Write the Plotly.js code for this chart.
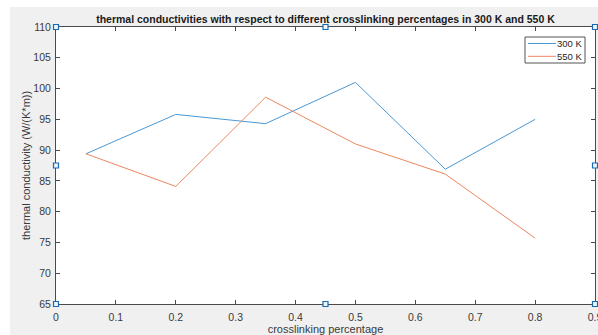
<!DOCTYPE html>
<html>
<head>
<meta charset="utf-8">
<script src="https://cdn.plot.ly/plotly-3.0.1.min.js"></script>
<style>html,body{margin:0;padding:0;background:#fff;}#chart{width:598px;height:335px;}</style>
</head>
<body>
<div id="chart"></div>
<script>
// Data
const crosslinking = [0.05, 0.2, 0.35, 0.5, 0.65, 0.8];
const k300 = [89.4, 95.8, 94.3, 101.0, 86.9, 95.0];
const k550 = [89.4, 84.1, 98.6, 91.0, 86.1, 75.7];
const seriesNames = ['300 K', '550 K'];
const seriesColors = ['#4a98d4', '#ec8660'];
const xTicks = [0, 0.1, 0.2, 0.3, 0.4, 0.5, 0.6, 0.7, 0.8, 0.9];
const yTicks = [65, 70, 75, 80, 85, 90, 95, 100, 105, 110];
const xTitle = 'crosslinking percentage';
const yTitle = 'thermal conductivity (W/(K*m))';

const W = 598, H = 335;
const L = 56, R = 3, T = 27, B = 31;
const pw = W - L - R, ph = H - T - B;
function px2x(p) { return (p - L) / pw; }
function py2y(p) { return (H - B - p) / ph; }

const traces = [
  {x: crosslinking, y: k300, name: seriesNames[0], type: 'scatter', mode: 'lines',
   line: {color: seriesColors[0], width: 1}, showlegend: false},
  {x: crosslinking, y: k550, name: seriesNames[1], type: 'scatter', mode: 'lines',
   line: {color: seriesColors[1], width: 1}, showlegend: false}
];

const handles = [];
[[0,0],[0.5,0],[1,0],[0,0.5],[1,0.5],[0,1],[0.5,1],[1,1]].forEach(function(p){
  handles.push({type: 'rect', xref: 'paper', yref: 'paper', xsizemode: 'pixel', ysizemode: 'pixel',
    xanchor: p[0], yanchor: p[1], x0: -2.5, x1: 2.5, y0: -2.5, y1: 2.5,
    line: {color: '#1a6ab3', width: 1.2}, fillcolor: '#eef4fa', layer: 'above'});
});

// custom compact legend (MATLAB style)
const legBox = {type: 'rect', xref: 'paper', yref: 'paper', x0: px2x(525), x1: px2x(585), y0: py2y(63), y1: py2y(37),
  line: {color: '#555555', width: 1}, fillcolor: '#ffffff', layer: 'above'};
const legLines = [];
const annotations = [];
seriesNames.forEach(function(n, i){
  const yy = 43.5 + i * 12.8;
  legLines.push({type: 'line', xref: 'paper', yref: 'paper', x0: px2x(528), x1: px2x(556), y0: py2y(yy), y1: py2y(yy),
    line: {color: seriesColors[i], width: 1}, layer: 'above'});
  annotations.push({xref: 'paper', yref: 'paper', x: px2x(583), y: py2y(yy), xanchor: 'right', yanchor: 'middle',
    text: n, showarrow: false, font: {size: 9.5, color: '#262626'}, borderpad: 0});
});
// y axis title (placed like MATLAB's)
annotations.push({xref: 'paper', yref: 'paper', x: px2x(25.5), y: 0.5, xanchor: 'center', yanchor: 'middle',
  textangle: -90, text: yTitle, showarrow: false, borderpad: 0, font: {size: 11, color: '#3a3a3a'}});

const shapes = [
  {type: 'rect', xref: 'paper', yref: 'paper', x0: px2x(0), x1: px2x(W), y0: py2y(7), y1: py2y(0),
   line: {width: 0}, fillcolor: '#ffffff', layer: 'below'},
  {type: 'rect', xref: 'paper', yref: 'paper', x0: px2x(0), x1: px2x(10), y0: py2y(H), y1: py2y(0),
   line: {width: 0}, fillcolor: '#ffffff', layer: 'below'},
  legBox
].concat(legLines).concat(handles);

const axisCommon = {
  showline: true, linecolor: '#4a4a4a', linewidth: 1, mirror: 'ticks',
  ticks: 'inside', ticklen: 4, tickcolor: '#4a4a4a', tickwidth: 1,
  showgrid: false, zeroline: false, ticklabeloverflow: 'allow',
  tickfont: {family: 'Liberation Sans, Arial, sans-serif', size: 10.5, color: '#3a3a3a'}
};

const layout = {
  width: W, height: H,
  margin: {l: L, r: R, t: T, b: B, pad: 0},
  paper_bgcolor: '#f0f0f0', plot_bgcolor: '#ffffff',
  font: {family: 'Liberation Sans, Arial, sans-serif', color: '#262626'},
  title: {text: '<b>thermal conductivities with respect to different crosslinking percentages in 300 K and 550 K</b>',
    font: {size: 10.5, color: '#1a1a1a'}, x: 0.5, xref: 'paper', xanchor: 'center',
    y: 1 - 19 / H, yref: 'container', yanchor: 'middle'},
  xaxis: Object.assign({}, axisCommon, {range: [0, 0.9], tickvals: xTicks, ticktext: xTicks.map(String),
    ticklabelstandoff: 3,
    title: {text: xTitle, font: {size: 11, color: '#3a3a3a'}, standoff: 9}}),
  yaxis: Object.assign({}, axisCommon, {range: [65, 110], tickvals: yTicks, ticktext: yTicks.map(String),
    ticklabelstandoff: 2}),
  showlegend: false,
  annotations: annotations,
  shapes: shapes
};

Plotly.newPlot('chart', traces, layout, {displayModeBar: false, staticPlot: true});
</script>
</body>
</html>
